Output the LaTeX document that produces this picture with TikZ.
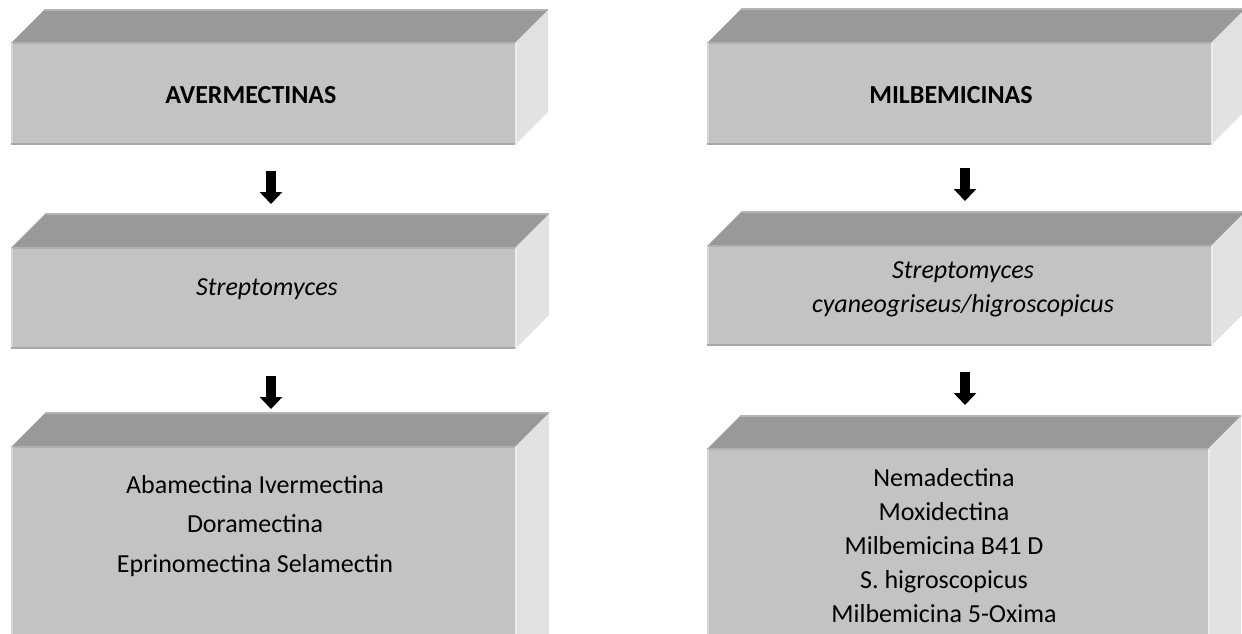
\documentclass[tikz,border=0pt]{standalone}
\usepackage{fontspec}
\setmainfont{Carlito}
\usetikzlibrary{arrows.meta}
\definecolor{frontc}{RGB}{195,195,195}
\definecolor{topc}{RGB}{153,153,153}
\definecolor{sidec}{RGB}{226,226,226}
\definecolor{edgetop}{RGB}{180,180,180}
\definecolor{edgefront}{RGB}{176,176,176}
\definecolor{edgeleft}{RGB}{212,212,212}
\definecolor{edgebot}{RGB}{168,168,168}
\definecolor{edgeside}{RGB}{236,236,236}
\tikzset{
  topface/.style={fill=topc},
  sideface/.style={fill=sidec},
  frontface/.style={fill=frontc},
  boxtext/.style={align=center, inner sep=0pt, font=\fontsize{13pt}{17.5pt}\selectfont},
  blockarrow/.style={line width=5pt, -{Triangle[width=11pt,length=6pt]}},
}
\newcommand\mycuboid[5]{%
  \fill[topface] (#1,#3) -- ({#1+#5},{#3-#5}) -- ({#2+#5},{#3-#5}) -- (#2,#3) -- cycle;
  \fill[sideface] (#2,#3) -- ({#2+#5},{#3-#5}) -- ({#2+#5},{#4-#5}) -- (#2,#4) -- cycle;
  \fill[frontface] (#1,#3) rectangle (#2,#4);
  \draw[edgetop, line width=1pt] ({#1+#5},{#3-#5}) -- ({#2+#5},{#3-#5});
  \draw[edgefront, line width=1.2pt] (#1,#3) -- (#2,#3);
  \draw[edgeleft, line width=1.2pt] ({#1+1},#3) -- ({#1+1},#4);
  \draw[edgebot, line width=1.2pt] (#1,{#4-1}) -- (#2,{#4-1});
  \draw[edgeside, line width=1.2pt] ({#2+1},#3) -- ({#2+1},#4);
}
\begin{document}
\begin{tikzpicture}[x=0.5pt, y=-0.5pt]
  \clip (0,0) rectangle (1242,633);
  \fill[white] (0,0) rectangle (1242,633);
  % left column
  \mycuboid{11}{515}{43}{145}{33}
  \mycuboid{11}{515}{248}{349}{34}
  \mycuboid{11}{515}{447}{700}{34}
  % right column
  \mycuboid{707}{1211}{43}{145}{34}
  \mycuboid{707}{1211}{246}{346}{34}
  \mycuboid{707}{1208}{449}{700}{33}
  % texts
  \node[boxtext, font=\fontsize{13pt}{17.5pt}\selectfont\bfseries] (t1) at (251,95) {AVERMECTINAS};
  \node[boxtext] (t2) at (267,289) {\itshape Streptomyces};
  \node[boxtext, font=\fontsize{13pt}{19.75pt}\selectfont] (t3) at (255,526)
    {Abamectina Ivermectina\\Doramectina\\Eprinomectina Selamectin};
  \node[boxtext, font=\fontsize{13pt}{17.5pt}\selectfont\bfseries] (t4) at (951,95) {MILBEMICINAS};
  \node[boxtext, font=\fontsize{13pt}{17pt}\selectfont\itshape] (t5) at (963,289)
    {Streptomyces\\cyaneogriseus/higroscopicus};
  \node[boxtext, font=\fontsize{13pt}{17pt}\selectfont] (t6) at (944,546)
    {Nemadectina\\Moxidectina\\Milbemicina B41 D\\S. higroscopicus\\Milbemicina 5-Oxima};
  % arrows
  \coordinate (a1s) at (271,171); \coordinate (a1e) at (271,204);
  \coordinate (a2s) at (271,376); \coordinate (a2e) at (271,409);
  \coordinate (a3s) at (965,168); \coordinate (a3e) at (965,201);
  \coordinate (a4s) at (965,372); \coordinate (a4e) at (965,405);
  \draw[blockarrow] (a1s) -- (a1e);
  \draw[blockarrow] (a2s) -- (a2e);
  \draw[blockarrow] (a3s) -- (a3e);
  \draw[blockarrow] (a4s) -- (a4e);
\end{tikzpicture}
\end{document}
